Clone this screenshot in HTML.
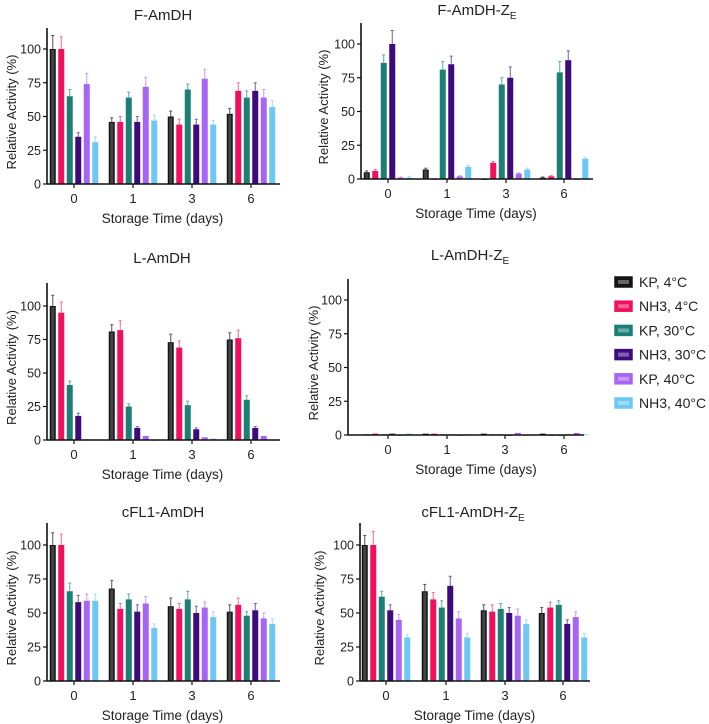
<!DOCTYPE html>
<html><head><meta charset="utf-8">
<style>
html,body{margin:0;padding:0;background:#fff;}
svg{display:block;font-family:"Liberation Sans",Arial,sans-serif;}
</style></head>
<body>
<svg id="chart" width="709" height="724" viewBox="0 0 709 724"></svg>
<script>
const categories = ["0","1","3","6"];
const seriesNames = ["KP, 4°C","NH3, 4°C","KP, 30°C","NH3, 30°C","KP, 40°C","NH3, 40°C"];
const yTicks = [0,25,50,75,100];
// values per panel: [group][series]
const fAmdh = [[100,100,65,35,74,31],[46,46,64,46,72,47],[50,44,70,44,78,44],[52,69,64,69,64,57]];
const fAmdhErr = [[10,9,5,3,8,4],[3,4,4,4,7,4],[4,4,4,4,7,3],[4,6,5,6,6,5]];
const fAmdhZe = [[5,6,86,100,1,1],[7,0,81,85,2,9],[0,12,70,75,4,7],[1,2,79,88,0,15]];
const fAmdhZeErr = [[1,1,6,10,0.5,1],[1,0,6,6,0.5,1],[0,1,5,8,0.5,1],[0.5,0.5,8,7,0,1]];
const lAmdh = [[100,95,41,18,0.5,0.5],[81,82,25,9,3,0],[73,69,26,8,2,1],[75,76,30,9,3,0]];
const lAmdhErr = [[8,8,3,2,0,0],[5,7,2,1,0,0],[6,5,3,1,0,0],[5,6,3,1,0,0]];
const lAmdhZe = [[0.5,1,0.5,1,0,1],[1,1,0.5,0.5,0,0.5],[1,0.5,0.5,0,1.5,0],[1,0,0,0.5,1.5,0.5]];
const lAmdhZeErr = [[0,0,0,0,0,0],[0,0,0,0,0,0],[0,0,0,0,0,0],[0,0,0,0,0,0]];
const cfl1 = [[100,100,66,58,59,59],[68,53,60,51,57,39],[55,53,60,50,54,47],[51,56,48,52,46,42]];
const cfl1Err = [[9,8,6,5,5,5],[6,4,4,5,5,3],[6,4,6,5,4,4],[5,5,3,5,4,4]];
const cfl1Ze = [[100,100,62,52,45,32],[66,60,54,70,46,32],[52,51,53,50,48,42],[50,54,56,42,47,32]];
const cfl1ZeErr = [[7,10,4,4,4,2],[5,5,5,7,5,3],[4,5,4,4,5,3],[4,4,3,3,4,3]];

const fills = ["#141414","#f2105e","#1b7f76","#3d0b7d","#a665f4","#6dc8f6"];
const errCols = ["#555","#f36a96","#5aa8a0","#7a5aa5","#c49af7","#9fdcf9"];
const NS="http://www.w3.org/2000/svg";
const svg=document.getElementById('chart');
function mk(tag,attrs,parent){const e=document.createElementNS(NS,tag);for(const k in attrs)e.setAttribute(k,attrs[k]);(parent||svg).appendChild(e);return e;}

const panels=[
 {name:"f-amdh",title:"F-AmDH",sub:"",vals:fAmdh,err:fAmdhErr,ax:47,base:184,y100:49,top:28,xend:280,centers:[74,133,192,251],tx:163,ty:20,lx:12},
 {name:"f-amdh-ze",title:"F-AmDH-Z",sub:"E",vals:fAmdhZe,err:fAmdhZeErr,ax:361,base:179,y100:44,top:23,xend:593,centers:[388,447,506,564],tx:477,ty:15,lx:324},
 {name:"l-amdh",title:"L-AmDH",sub:"",vals:lAmdh,err:lAmdhErr,ax:47,base:440,y100:306,top:283,xend:280,centers:[74,133,192,251],tx:162,ty:263,lx:12},
 {name:"l-amdh-ze",title:"L-AmDH-Z",sub:"E",vals:lAmdhZe,err:lAmdhZeErr,ax:348,base:435,y100:300,top:279,xend:584,centers:[388,447,505,564],tx:470,ty:260,lx:314},
 {name:"cfl1-amdh",title:"cFL1-AmDH",sub:"",vals:cfl1,err:cfl1Err,ax:47,base:681,y100:545,top:523,xend:280,centers:[74,133,192,251],tx:163,ty:517,lx:12},
 {name:"cfl1-amdh-ze",title:"cFL1-AmDH-Z",sub:"E",vals:cfl1Ze,err:cfl1ZeErr,ax:360,base:681,y100:545,top:523,xend:590,centers:[386,446,505,563],tx:473,ty:517,lx:320}
];
const BW=6,PITCH=8.5;
panels.forEach(p=>{
  const g=mk('g',{});
  
  
  const yS=v=>p.base-(p.base-p.y100)*v/100;
  // title
  const t=mk('text',{x:p.tx,y:p.ty,'text-anchor':'middle','font-size':15,fill:'#222'},g);
  
  
  t.textContent=p.title;
  if(p.sub){const s=mk('tspan',{'font-size':10,dy:4},t);s.textContent=p.sub;}
  // bars
  p.vals.forEach((grp,gi)=>{
    const start=p.centers[gi]-PITCH*2.5-BW/2;
    grp.forEach((v,si)=>{
      const x=start+si*PITCH, y=yS(v), h=p.base-y;
      const e=p.err[gi][si];
      if(e>0){
        const ey=yS(v+e);
        const l=mk('line',{x1:x+BW/2,x2:x+BW/2,y1:y,y2:ey,stroke:errCols[si],'stroke-width':1},g);
        
        
        mk('line',{x1:x+BW/2-1.5,x2:x+BW/2+1.5,y1:ey,y2:ey,stroke:errCols[si],'stroke-width':1},g);
      }
      const r=mk('rect',{x:x,y:y,width:BW,height:Math.max(h,0.8),fill:fills[si]},g);
      
      
      if(si===0&&h>2)mk('rect',{x:x+1.5,y:y+1,width:BW-3,height:h-1,fill:'#444'},g);
    });
  });
  // axes
  const ya=mk('line',{x1:p.ax,x2:p.ax,y1:p.top,y2:p.base,stroke:'#111','stroke-width':1.6},g);
  
  
  const xa=mk('line',{x1:p.ax,x2:p.xend,y1:p.base,y2:p.base,stroke:'#111','stroke-width':1.6},g);
  
  
  yTicks.forEach(v=>{
    const y=yS(v);
    mk('line',{x1:p.ax-4,x2:p.ax,y1:y,y2:y,stroke:'#111','stroke-width':1.2},g);
    const tl=mk('text',{x:p.ax-6,y:y+4.5,'text-anchor':'end','font-size':12.5,fill:'#222'},g);
    
    
    tl.textContent=v;
  });
  categories.forEach((c,i)=>{
    const x=p.centers[i];
    mk('line',{x1:x,x2:x,y1:p.base,y2:p.base+4,stroke:'#111','stroke-width':1.2},g);
    const tl=mk('text',{x:x,y:p.base+19,'text-anchor':'middle','font-size':13,fill:'#222'},g);
    
    
    tl.textContent=c;
  });
  const xt=mk('text',{x:(p.centers[0]+p.centers[3])/2,y:p.base+39,'text-anchor':'middle','font-size':13.5,fill:'#222'},g);
  
  
  xt.textContent='Storage Time (days)';
  const cy=(p.top+p.base)/2+6;
  const yt=mk('text',{x:0,y:0,transform:`translate(${p.lx+4},${cy}) rotate(-90)`,'text-anchor':'middle','font-size':13,fill:'#222'},g);
  
  
  yt.textContent='Relative Activity  (%)';
});
// legend
const lg=mk('g',{});


seriesNames.forEach((n,i)=>{
  const y=282+i*24.2;
  const e=mk('g',{},lg);
  
  
  mk('rect',{x:615,y:y-5,width:17,height:10,fill:fills[i],stroke:fills[i],'stroke-width':1.5},e);
  mk('rect',{x:618,y:y-2,width:11,height:4,fill:'#fff',opacity:0.35},e);
  const t=mk('text',{x:639,y:y+5,'font-size':14,fill:'#222'},e);
  t.textContent=n;
});
</script>
</body></html>
